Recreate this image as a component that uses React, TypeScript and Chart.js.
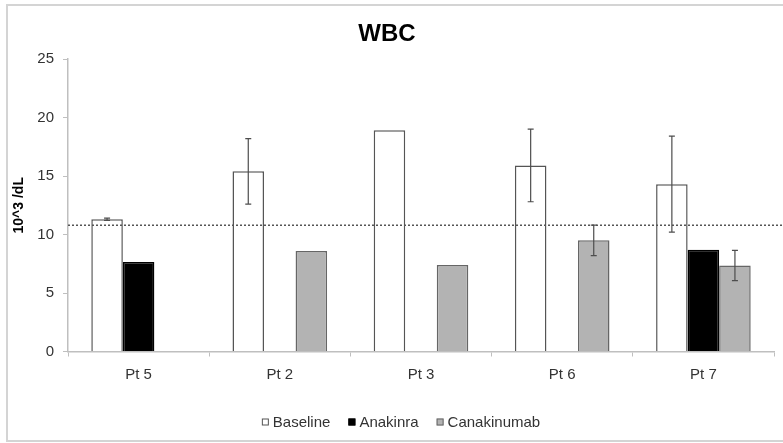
import React, { useEffect, useRef } from "react";
import { Chart, registerables } from "chart.js";

Chart.register(...registerables);

const categories = ["Pt 5", "Pt 2", "Pt 3", "Pt 6", "Pt 7"];
const seriesNames = ["Baseline", "Anakinra", "Canakinumab"];
const baseline = [11.3, 15.4, 18.9, 15.9, 14.3];
const anakinra = [7.65, null, null, null, 8.7];
const canakinumab = [null, 8.6, 7.4, 9.5, 7.35];
const baselineErr = [0.1, 2.8, 0, 3.1, 4.1];
const anakinraErr = [0, 0, 0, 0, 0];
const canakinumabErr = [0, 0, 0, 1.3, 1.3];
const referenceLine = 10.8;
const yTicks = [0, 5, 10, 15, 20, 25];

const FONT = "'Liberation Sans', Arial, sans-serif";

const errorBarsPlugin = {
  id: "errorBars",
  afterDatasetsDraw(chart: any) {
    const { ctx, scales } = chart;
    const yScale = scales.y;
    const errs = [baselineErr, anakinraErr, canakinumabErr];
    ctx.save();
    // reference dotted line
    const yRef = yScale.getPixelForValue(referenceLine);
    ctx.strokeStyle = "#555555";
    ctx.lineWidth = 1.5;
    ctx.setLineDash([2, 2]);
    ctx.beginPath();
    ctx.moveTo(chart.chartArea.left, yRef);
    ctx.lineTo(chart.width, yRef);
    ctx.stroke();
    ctx.setLineDash([]);
    // error bars
    ctx.strokeStyle = "#4d4d4d";
    ctx.lineWidth = 1.2;
    chart.data.datasets.forEach((ds: any, di: number) => {
      const meta = chart.getDatasetMeta(di);
      meta.data.forEach((bar: any, i: number) => {
        const v = ds.data[i];
        const e = errs[di][i];
        if (v == null || !e) return;
        const x = bar.x;
        const yTop = yScale.getPixelForValue(v + e);
        const yBot = yScale.getPixelForValue(v - e);
        ctx.beginPath();
        ctx.moveTo(x, yTop);
        ctx.lineTo(x, yBot);
        ctx.moveTo(x - 3, yTop);
        ctx.lineTo(x + 3, yTop);
        ctx.moveTo(x - 3, yBot);
        ctx.lineTo(x + 3, yBot);
        ctx.stroke();
      });
    });
    ctx.restore();
  },
};

const framePlugin = {
  id: "frame",
  beforeDraw(chart: any) {
    const { ctx } = chart;
    ctx.save();
    ctx.fillStyle = "#ffffff";
    ctx.fillRect(0, 0, chart.width, chart.height);
    ctx.strokeStyle = "#d4d4d4";
    ctx.lineWidth = 2;
    ctx.beginPath();
    ctx.moveTo(chart.width, 5);
    ctx.lineTo(7, 5);
    ctx.lineTo(7, 441);
    ctx.lineTo(chart.width, 441);
    ctx.stroke();
    ctx.restore();
  },
};

const legendPlugin = {
  id: "customLegend",
  afterDraw(chart: any) {
    const { ctx } = chart;
    ctx.save();
    ctx.font = `15px ${FONT}`;
    ctx.textBaseline = "middle";
    const box = 7;
    const gap = 4;
    const itemGap = 18;
    const labels = chart.data.datasets.map((d: any) => d.label);
    const widths = labels.map((l: string) => box + gap + ctx.measureText(l).width);
    const total = widths.reduce((a: number, b: number) => a + b, 0) + itemGap * (labels.length - 1);
    let x = 401 - total / 2;
    const yc = 423;
    chart.data.datasets.forEach((ds: any, i: number) => {
      ctx.fillStyle = ds.backgroundColor;
      ctx.fillRect(x, yc - box / 2 - 1, box, box);
      ctx.strokeStyle = ds.borderColor;
      ctx.lineWidth = 1;
      ctx.strokeRect(x + 0.5, yc - box / 2 - 0.5, box - 1, box - 1);
      ctx.fillStyle = "#333333";
      ctx.fillText(labels[i], x + box + gap, yc);
      x += widths[i] + itemGap;
    });
    ctx.restore();
  },
};

export default function App() {
  const canvasRef = useRef<HTMLCanvasElement | null>(null);

  useEffect(() => {
    document.body.style.margin = "0";
    const canvas = canvasRef.current;
    if (!canvas) return;
    const chart = new Chart(canvas, {
      type: "bar",
      data: {
        labels: categories,
        datasets: [
          {
            label: seriesNames[0],
            data: baseline,
            backgroundColor: "#ffffff",
            borderColor: "#555555",
            borderWidth: 1.5,
          },
          {
            label: seriesNames[1],
            data: anakinra,
            backgroundColor: "#000000",
            borderColor: "#000000",
            borderWidth: 1.5,
          },
          {
            label: seriesNames[2],
            data: canakinumab,
            backgroundColor: "#b3b3b3",
            borderColor: "#666666",
            borderWidth: 1.5,
          },
        ] as any,
      },
      options: {
        responsive: false,
        animation: false,
        devicePixelRatio: 1,
        layout: { padding: { left: 0, right: 9, top: 0, bottom: 0 } },
        datasets: { bar: { categoryPercentage: 0.67, barPercentage: 1, skipNull: false } },
        plugins: {
          legend: { display: false },
          tooltip: { enabled: false },
          title: {
            display: true,
            text: "WBC",
            color: "#000000",
            font: { family: FONT, size: 24, weight: "bold" },
            padding: { top: 19.6, bottom: 10.6 },
          },
        },
        scales: {
          x: {
            grid: {
              display: true,
              offset: true,
              drawOnChartArea: false,
              drawTicks: true,
              tickLength: 5,
              color: "#bfbfbf",
            },
            border: { display: true, color: "#bfbfbf", width: 1.5 },
            ticks: { color: "#333333", font: { family: FONT, size: 15 }, padding: 9 },
            afterFit: (scale: any) => {
              scale.height = 91.5;
            },
          },
          y: {
            min: 0,
            max: 25,
            afterBuildTicks: (scale: any) => {
              scale.ticks = yTicks.map((v) => ({ value: v }));
            },
            grid: {
              display: true,
              drawOnChartArea: false,
              drawTicks: true,
              tickLength: 5,
              color: "#bfbfbf",
            },
            border: { display: true, color: "#bfbfbf", width: 1.5 },
            ticks: { color: "#333333", font: { family: FONT, size: 15 }, padding: 9 },
            title: {
              display: true,
              text: "10^3 /dL",
              color: "#000000",
              font: { family: FONT, size: 14, weight: "bold" },
              padding: { top: 11, bottom: 0 },
            },
            afterFit: (scale: any) => {
              scale.width = 68;
            },
          },
        },
      } as any,
      plugins: [framePlugin, errorBarsPlugin, legendPlugin],
    });
    return () => chart.destroy();
  }, []);

  return (
    <div style={{ width: 783, height: 443, position: "relative" }}>
      <canvas ref={canvasRef} width={783} height={443} style={{ display: "block" }} />
    </div>
  );
}
